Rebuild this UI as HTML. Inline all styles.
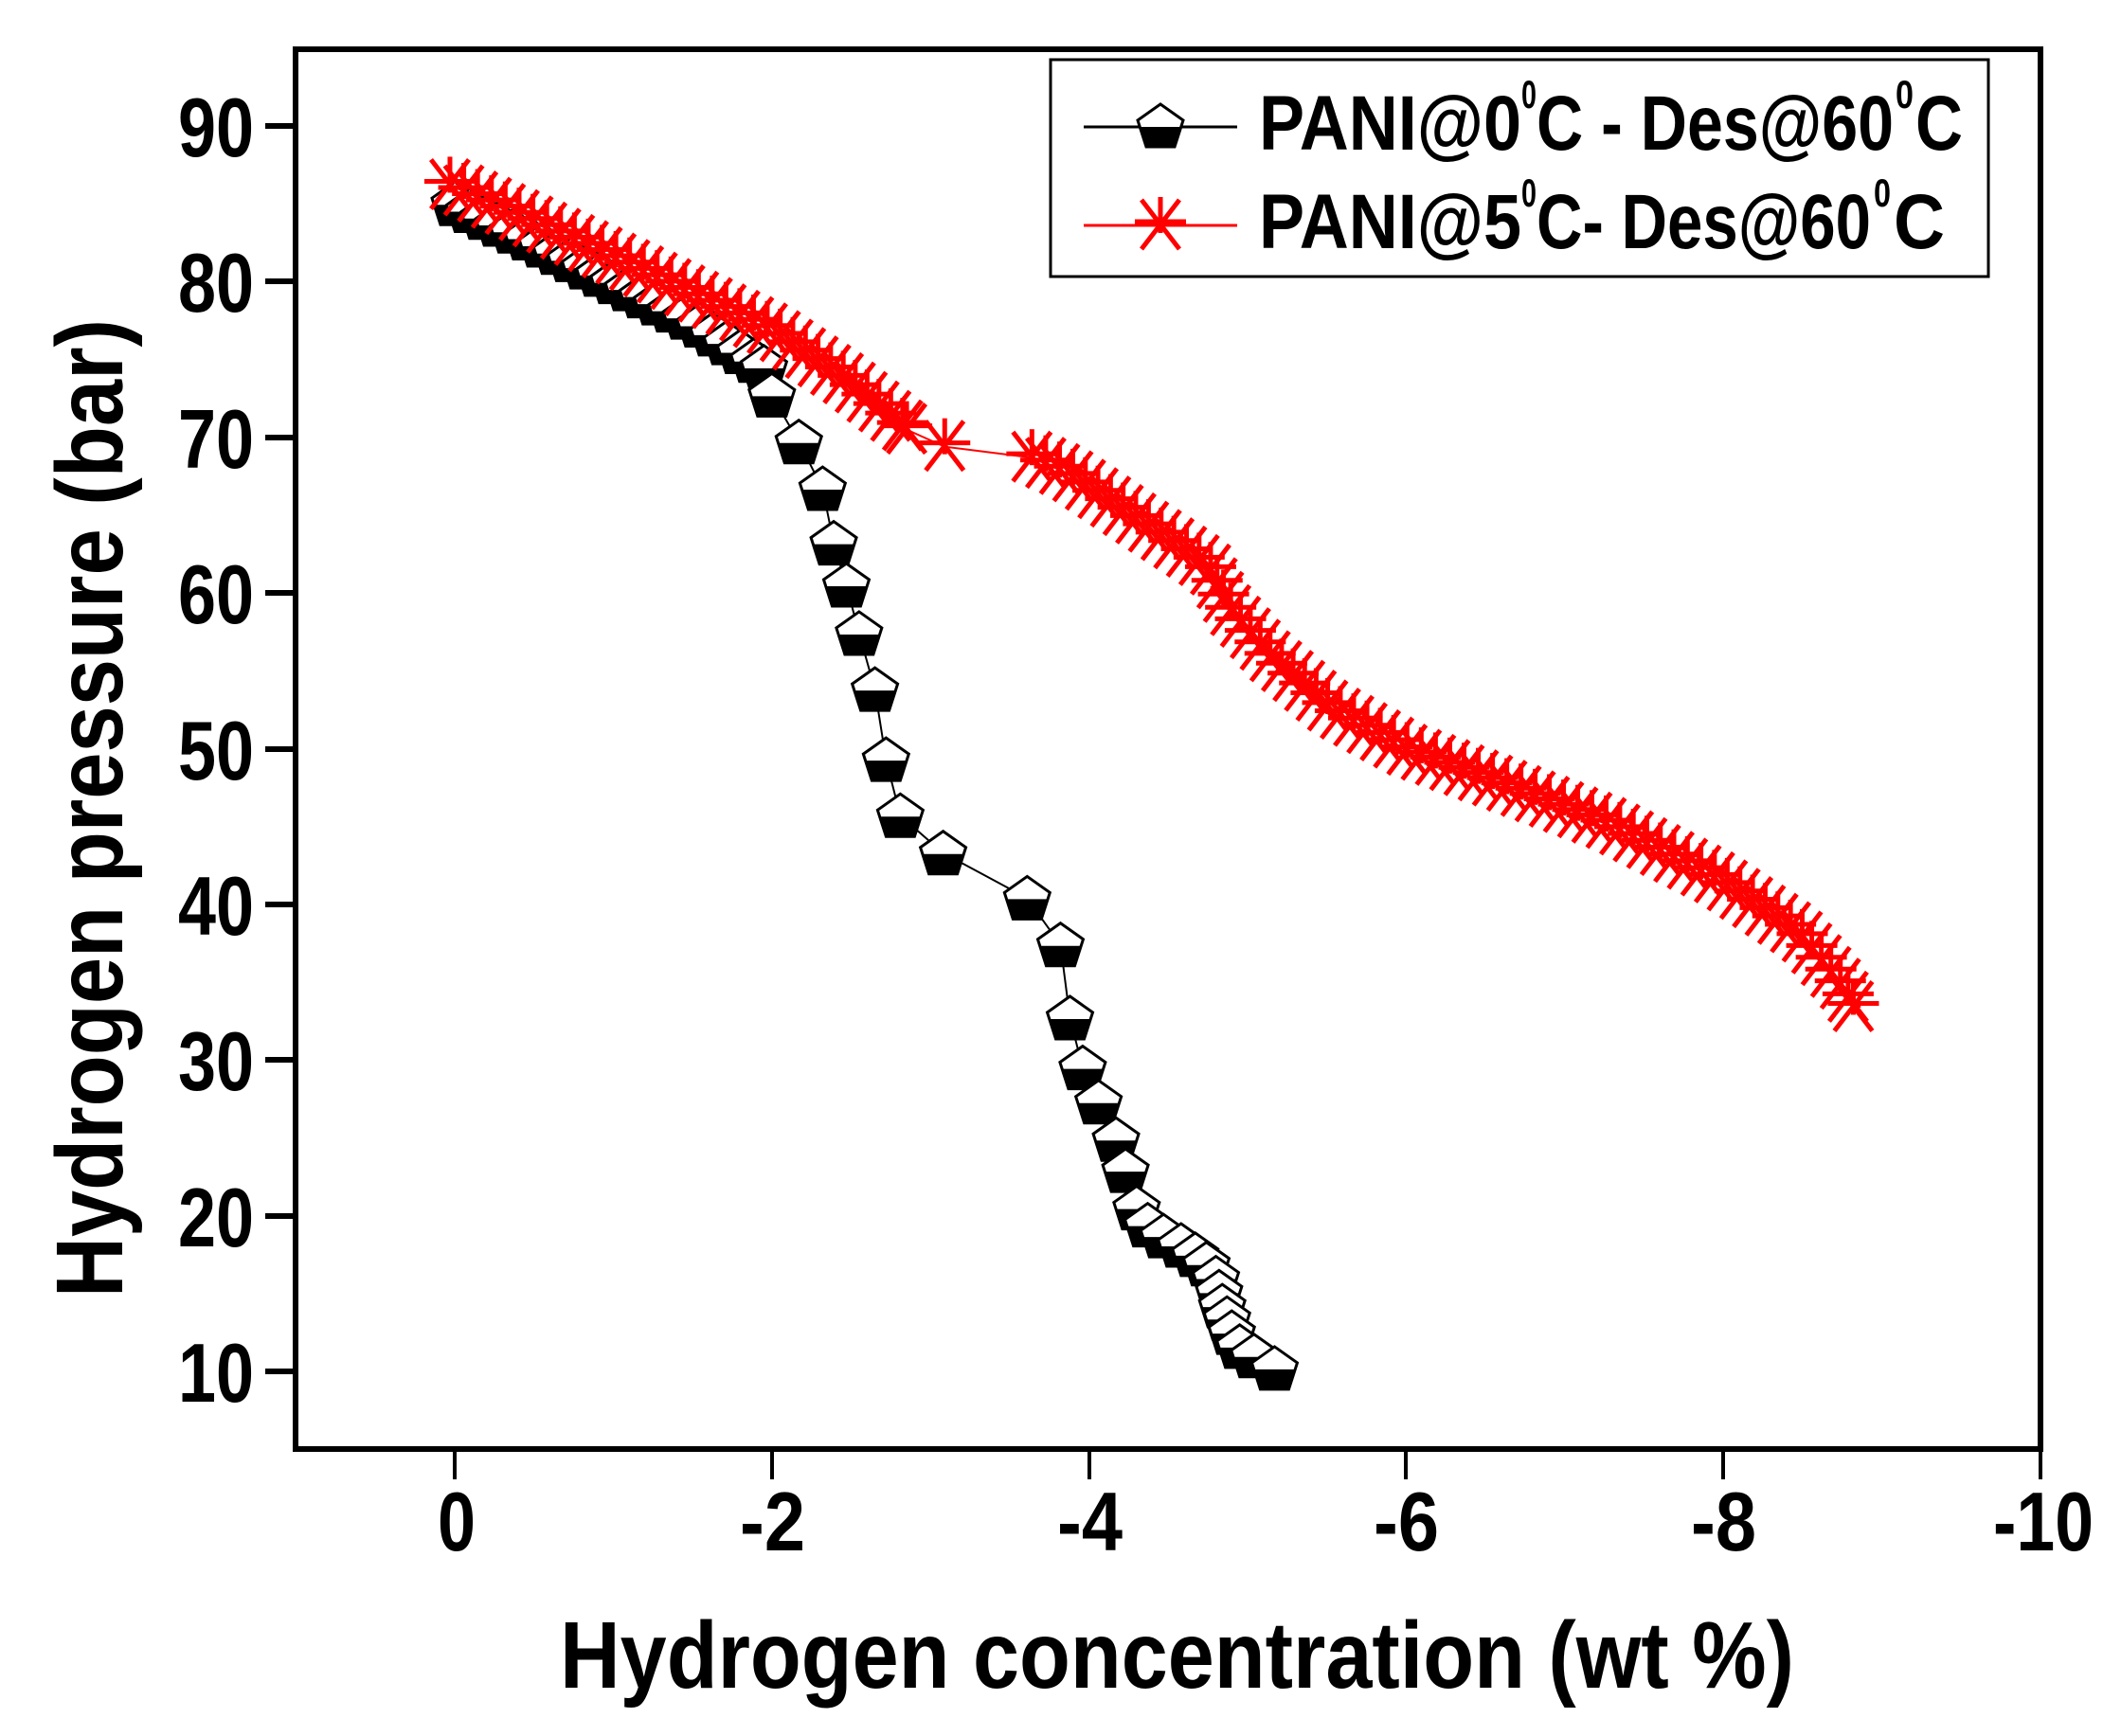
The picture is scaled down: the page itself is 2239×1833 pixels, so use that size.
<!DOCTYPE html>
<html><head><meta charset="utf-8"><style>
html,body{margin:0;padding:0;background:#fff;}
svg{display:block;}
text{font-family:"Liberation Sans",Arial,sans-serif;font-weight:bold;fill:#000;}
</style></head><body>
<svg id="s" width="2239" height="1833" viewBox="0 0 2239 1833" xmlns="http://www.w3.org/2000/svg">
<rect width="2239" height="1833" fill="#fff"/>
<g id="data"></g>
<rect x="312" y="52" width="1842" height="1478" fill="none" stroke="#000" stroke-width="6"/>
<g stroke="#000" stroke-width="6">
<line x1="280" x2="312" y1="133" y2="133"/><line x1="280" x2="312" y1="297" y2="297"/>
<line x1="280" x2="312" y1="462" y2="462"/><line x1="280" x2="312" y1="626" y2="626"/>
<line x1="280" x2="312" y1="791" y2="791"/><line x1="280" x2="312" y1="955" y2="955"/>
<line x1="280" x2="312" y1="1119" y2="1119"/><line x1="280" x2="312" y1="1284" y2="1284"/>
<line x1="280" x2="312" y1="1448" y2="1448"/>
</g>
<g stroke="#000" stroke-width="4">
<line x1="480" x2="480" y1="1530" y2="1562"/><line x1="815" x2="815" y1="1530" y2="1562"/>
<line x1="1150" x2="1150" y1="1530" y2="1562"/><line x1="1484" x2="1484" y1="1530" y2="1562"/>
<line x1="1819" x2="1819" y1="1530" y2="1562"/><line x1="2154" x2="2154" y1="1530" y2="1562"/>
</g>
<g font-size="88" text-anchor="end">
<text x="268" y="165" textLength="80" lengthAdjust="spacingAndGlyphs">90</text>
<text x="268" y="329" textLength="80" lengthAdjust="spacingAndGlyphs">80</text>
<text x="268" y="494" textLength="80" lengthAdjust="spacingAndGlyphs">70</text>
<text x="268" y="658" textLength="80" lengthAdjust="spacingAndGlyphs">60</text>
<text x="268" y="823" textLength="80" lengthAdjust="spacingAndGlyphs">50</text>
<text x="268" y="987" textLength="80" lengthAdjust="spacingAndGlyphs">40</text>
<text x="268" y="1151" textLength="80" lengthAdjust="spacingAndGlyphs">30</text>
<text x="268" y="1316" textLength="80" lengthAdjust="spacingAndGlyphs">20</text>
<text x="268" y="1480" textLength="80" lengthAdjust="spacingAndGlyphs">10</text>
</g>
<g font-size="88">
<text x="462" y="1637" textLength="40" lengthAdjust="spacingAndGlyphs">0</text>
<text x="781" y="1637" textLength="69" lengthAdjust="spacingAndGlyphs">-2</text>
<text x="1116" y="1637" textLength="69" lengthAdjust="spacingAndGlyphs">-4</text>
<text x="1450" y="1637" textLength="69" lengthAdjust="spacingAndGlyphs">-6</text>
<text x="1785" y="1637" textLength="69" lengthAdjust="spacingAndGlyphs">-8</text>
<text x="2104" y="1637" textLength="106" lengthAdjust="spacingAndGlyphs">-10</text>
</g>
<text x="591" y="1782" font-size="100" textLength="1303" lengthAdjust="spacingAndGlyphs">Hydrogen concentration (wt %)</text>
<text transform="translate(129,1370) rotate(-90)" x="0" y="0" font-size="100" textLength="1033" lengthAdjust="spacingAndGlyphs">Hydrogen pressure (bar)</text>
<rect x="1109" y="63" width="990" height="229" fill="#fff" stroke="#000" stroke-width="3"/>
<line x1="1144" x2="1306" y1="134" y2="134" stroke="#000" stroke-width="3"/>
<line x1="1144" x2="1306" y1="238" y2="238" stroke="#f00" stroke-width="3"/>
<g id="leg"></g>
<g font-size="82">
<text x="1329" y="158" textLength="277" lengthAdjust="spacingAndGlyphs">PANI@0</text>
<text x="1606" y="114" font-size="42" textLength="16" lengthAdjust="spacingAndGlyphs">0</text>
<text x="1622" y="158" textLength="377" lengthAdjust="spacingAndGlyphs">C - Des@60</text>
<text x="2001" y="114" font-size="42" textLength="19" lengthAdjust="spacingAndGlyphs">0</text>
<text x="2022" y="158" textLength="50" lengthAdjust="spacingAndGlyphs">C</text>
<text x="1329" y="262" textLength="277" lengthAdjust="spacingAndGlyphs">PANI@5</text>
<text x="1606" y="218" font-size="42" textLength="16" lengthAdjust="spacingAndGlyphs">0</text>
<text x="1622" y="262" textLength="353" lengthAdjust="spacingAndGlyphs">C- Des@60</text>
<text x="1978" y="218" font-size="42" textLength="18" lengthAdjust="spacingAndGlyphs">0</text>
<text x="1999" y="262" textLength="54" lengthAdjust="spacingAndGlyphs">C</text>
</g>
</svg>
<script>
(function(){
var NS="http://www.w3.org/2000/svg";
function X(v){return 480+(-v)*167.4;}
function Y(p){return 133+(90-p)*16.44;}
function dense(a,step){var pts=[];var P=a.map(function(q){return [X(q[0]),Y(q[1])];});
 pts.push(P[0]);var carry=0;
 for(var i=1;i<P.length;i++){var x0=P[i-1][0],y0=P[i-1][1],x1=P[i][0],y1=P[i][1];
  var L=Math.hypot(x1-x0,y1-y0);var d=step-carry;
  while(d<=L){pts.push([x0+(x1-x0)*d/L,y0+(y1-y0)*d/L]);d+=step;}
  carry=L-(d-step);}
 var last=P[P.length-1],pl=pts[pts.length-1];
 if(Math.hypot(last[0]-pl[0],last[1]-pl[1])>4)pts.push(last);
 return pts;}
function sp(a){return a.map(function(q){return [X(q[0]),Y(q[1])];});}
var black=dense([[0,85],[-0.5,82.6],[-1,80],[-1.5,77.5],[-1.95,74.5]],17).concat(sp([
[-2.0,72.7],[-2.17,69.7],[-2.32,66.7],[-2.39,63.2],[-2.47,60.5],[-2.55,57.4],[-2.65,53.8],[-2.72,49.3],[-2.81,45.7],[-3.08,43.3],[-3.61,40.4],[-3.82,37.4],[-3.88,32.7],[-3.96,29.5],[-4.06,27.3],[-4.17,24.9],[-4.23,22.9],[-4.30,20.5],[-4.37,19.4],[-4.47,18.7],[-4.58,18.1],[-4.67,17.5],[-4.74,16.9],[-4.80,16.0],[-4.82,15.1],[-4.84,14.2],[-4.87,13.4],[-4.90,12.5],[-4.95,11.6],[-5.04,11.0],[-5.17,10.2]]));
var red=dense([[0.03,86.2],[-1,81.5],[-2,76.8],[-2.47,73.6],[-2.85,70.5]],16).concat(sp([[-3.09,69.4]])).concat(
 dense([[-3.64,68.7],[-3.86,67.7],[-4.24,65.1],[-4.63,62.5],[-4.76,61.6],[-4.88,59],[-5.14,55.9],[-5.53,52.5],[-6,49.9],[-6.6,47.7],[-7.28,45.1],[-7.96,41.6],[-8.48,38.1],[-8.75,34.7],[-8.82,33.4]],16));
var g=document.getElementById("data");
function el(n,at,par){var e=document.createElementNS(NS,n);for(var k in at)e.setAttribute(k,at[k]);(par||g).appendChild(e);return e;}
function line(pts,c){el("polyline",{points:pts.map(function(p){return p[0].toFixed(1)+","+p[1].toFixed(1)}).join(" "),fill:"none",stroke:c,"stroke-width":2});}
function pent(x,y,par){
 el("polygon",{points:[[0,-23],[24,-6],[15,22],[-15,22],[-24,-6]].map(function(p){return (x+p[0])+","+(y+p[1])}).join(" "),fill:"#fff",stroke:"#000","stroke-width":3},par);
 el("polygon",{points:[[-21.7,1],[21.7,1],[15,22],[-15,22]].map(function(p){return (x+p[0])+","+(y+p[1])}).join(" "),fill:"#000"},par);}
function star(x,y,par){
 [[-27,-4,27,-4],[-20,-27,20,25],[20,-27,-20,25],[0,-30,0,8]].forEach(function(l){
 el("line",{x1:x+l[0],y1:y+l[1],x2:x+l[2],y2:y+l[3],stroke:"#f00","stroke-width":5},par);});}
line(black,"#000");
black.forEach(function(p){pent(p[0],p[1]);});
line(red,"#f00");
red.forEach(function(p){star(p[0],p[1]);});
var lg=document.getElementById("leg");
pent(1225,133,lg);star(1225,238,lg);
})();
</script>
</body></html>
